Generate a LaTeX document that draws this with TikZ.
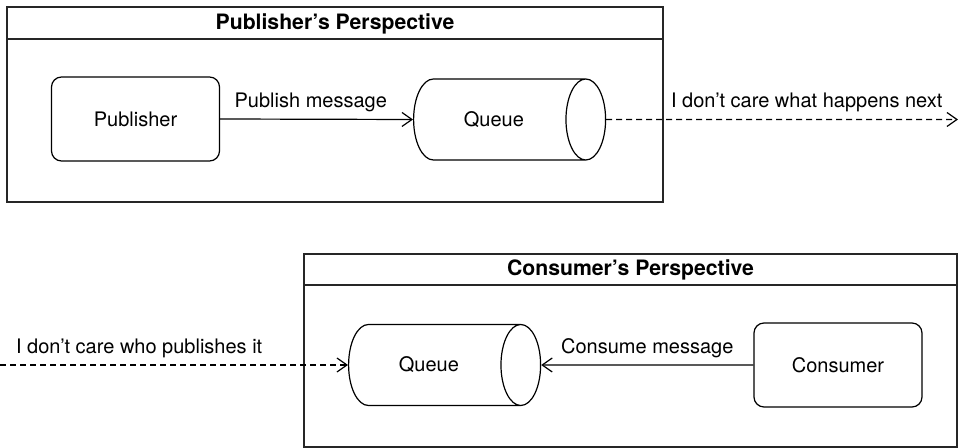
\documentclass[tikz,border=0pt]{standalone}
\usepackage{fontspec}
\setmainfont{TeX Gyre Heros}
\usetikzlibrary{shapes.geometric, arrows.meta}

\begin{document}
\begin{tikzpicture}[x=0.5pt, y=-0.5pt,
  frame/.style={rectangle, draw=black!85, line width=0.7pt, inner sep=0pt},
  band/.style={draw=black!85, line width=1pt},
  title/.style={font=\fontsize{10.6}{12}\selectfont\bfseries},
  actor/.style={rectangle, draw, rounded corners=5pt, line width=0.6pt,
                minimum width=84pt, minimum height=42pt, font=\fontsize{10}{12}\selectfont},
  queue/.style={cylinder, draw, line width=0.6pt, aspect=1.35, anchor=west,
                minimum width=40.5pt, minimum height=96pt, font=\fontsize{10}{12}\selectfont},
  label/.style={font=\fontsize{10}{12}\selectfont},
  msg/.style={line width=0.6pt, -{Straight Barb[length=5pt,width=7pt]}},
  care/.style={msg, dash pattern=on 3pt off 2pt}
]
  \useasboundingbox (0,0) rectangle (960,448);

  % ===== Publisher's Perspective =====
  \node[frame, minimum width=328pt, minimum height=97.5pt] (pubframe) at (335,104.5) {};
  \draw[band] ([yshift=-16.5pt]pubframe.north west) -- ([yshift=-16.5pt]pubframe.north east);
  \node[title] (pubtitle) at (335,23.5) {Publisher’s Perspective};

  \node[actor] (publisher) at (135.5,119) {Publisher};
  \node[queue] (pubqueue) at (413,119.5) {Queue};
  \coordinate (next) at (958,119.5);

  \draw[msg] (publisher.east) -- (pubqueue.west)
    node[label, above, pos=0.47] {Publish message};
  \draw[care] (pubqueue.east) -- (next)
    node[label, above, pos=0.57] {I don’t care what happens next};

  % ===== Consumer's Perspective =====
  \node[frame, minimum width=326.5pt, minimum height=96.5pt] (conframe) at (630.5,350.5) {};
  \draw[band] ([yshift=-16pt]conframe.north west) -- ([yshift=-16pt]conframe.north east);
  \node[title] (contitle) at (630.5,270) {Consumer’s Perspective};

  \node[queue] (conqueue) at (348,365) {Queue};
  \node[actor] (consumer) at (838,365) {Consumer};
  \coordinate (prev) at (0,365);

  \draw[msg] (consumer.west) -- (conqueue.east)
    node[label, above, pos=0.5] {Consume message};
  \draw[care] (prev) -- (conqueue.west)
    node[label, above, pos=0.40] {I don’t care who publishes it};
\end{tikzpicture}
\end{document}
